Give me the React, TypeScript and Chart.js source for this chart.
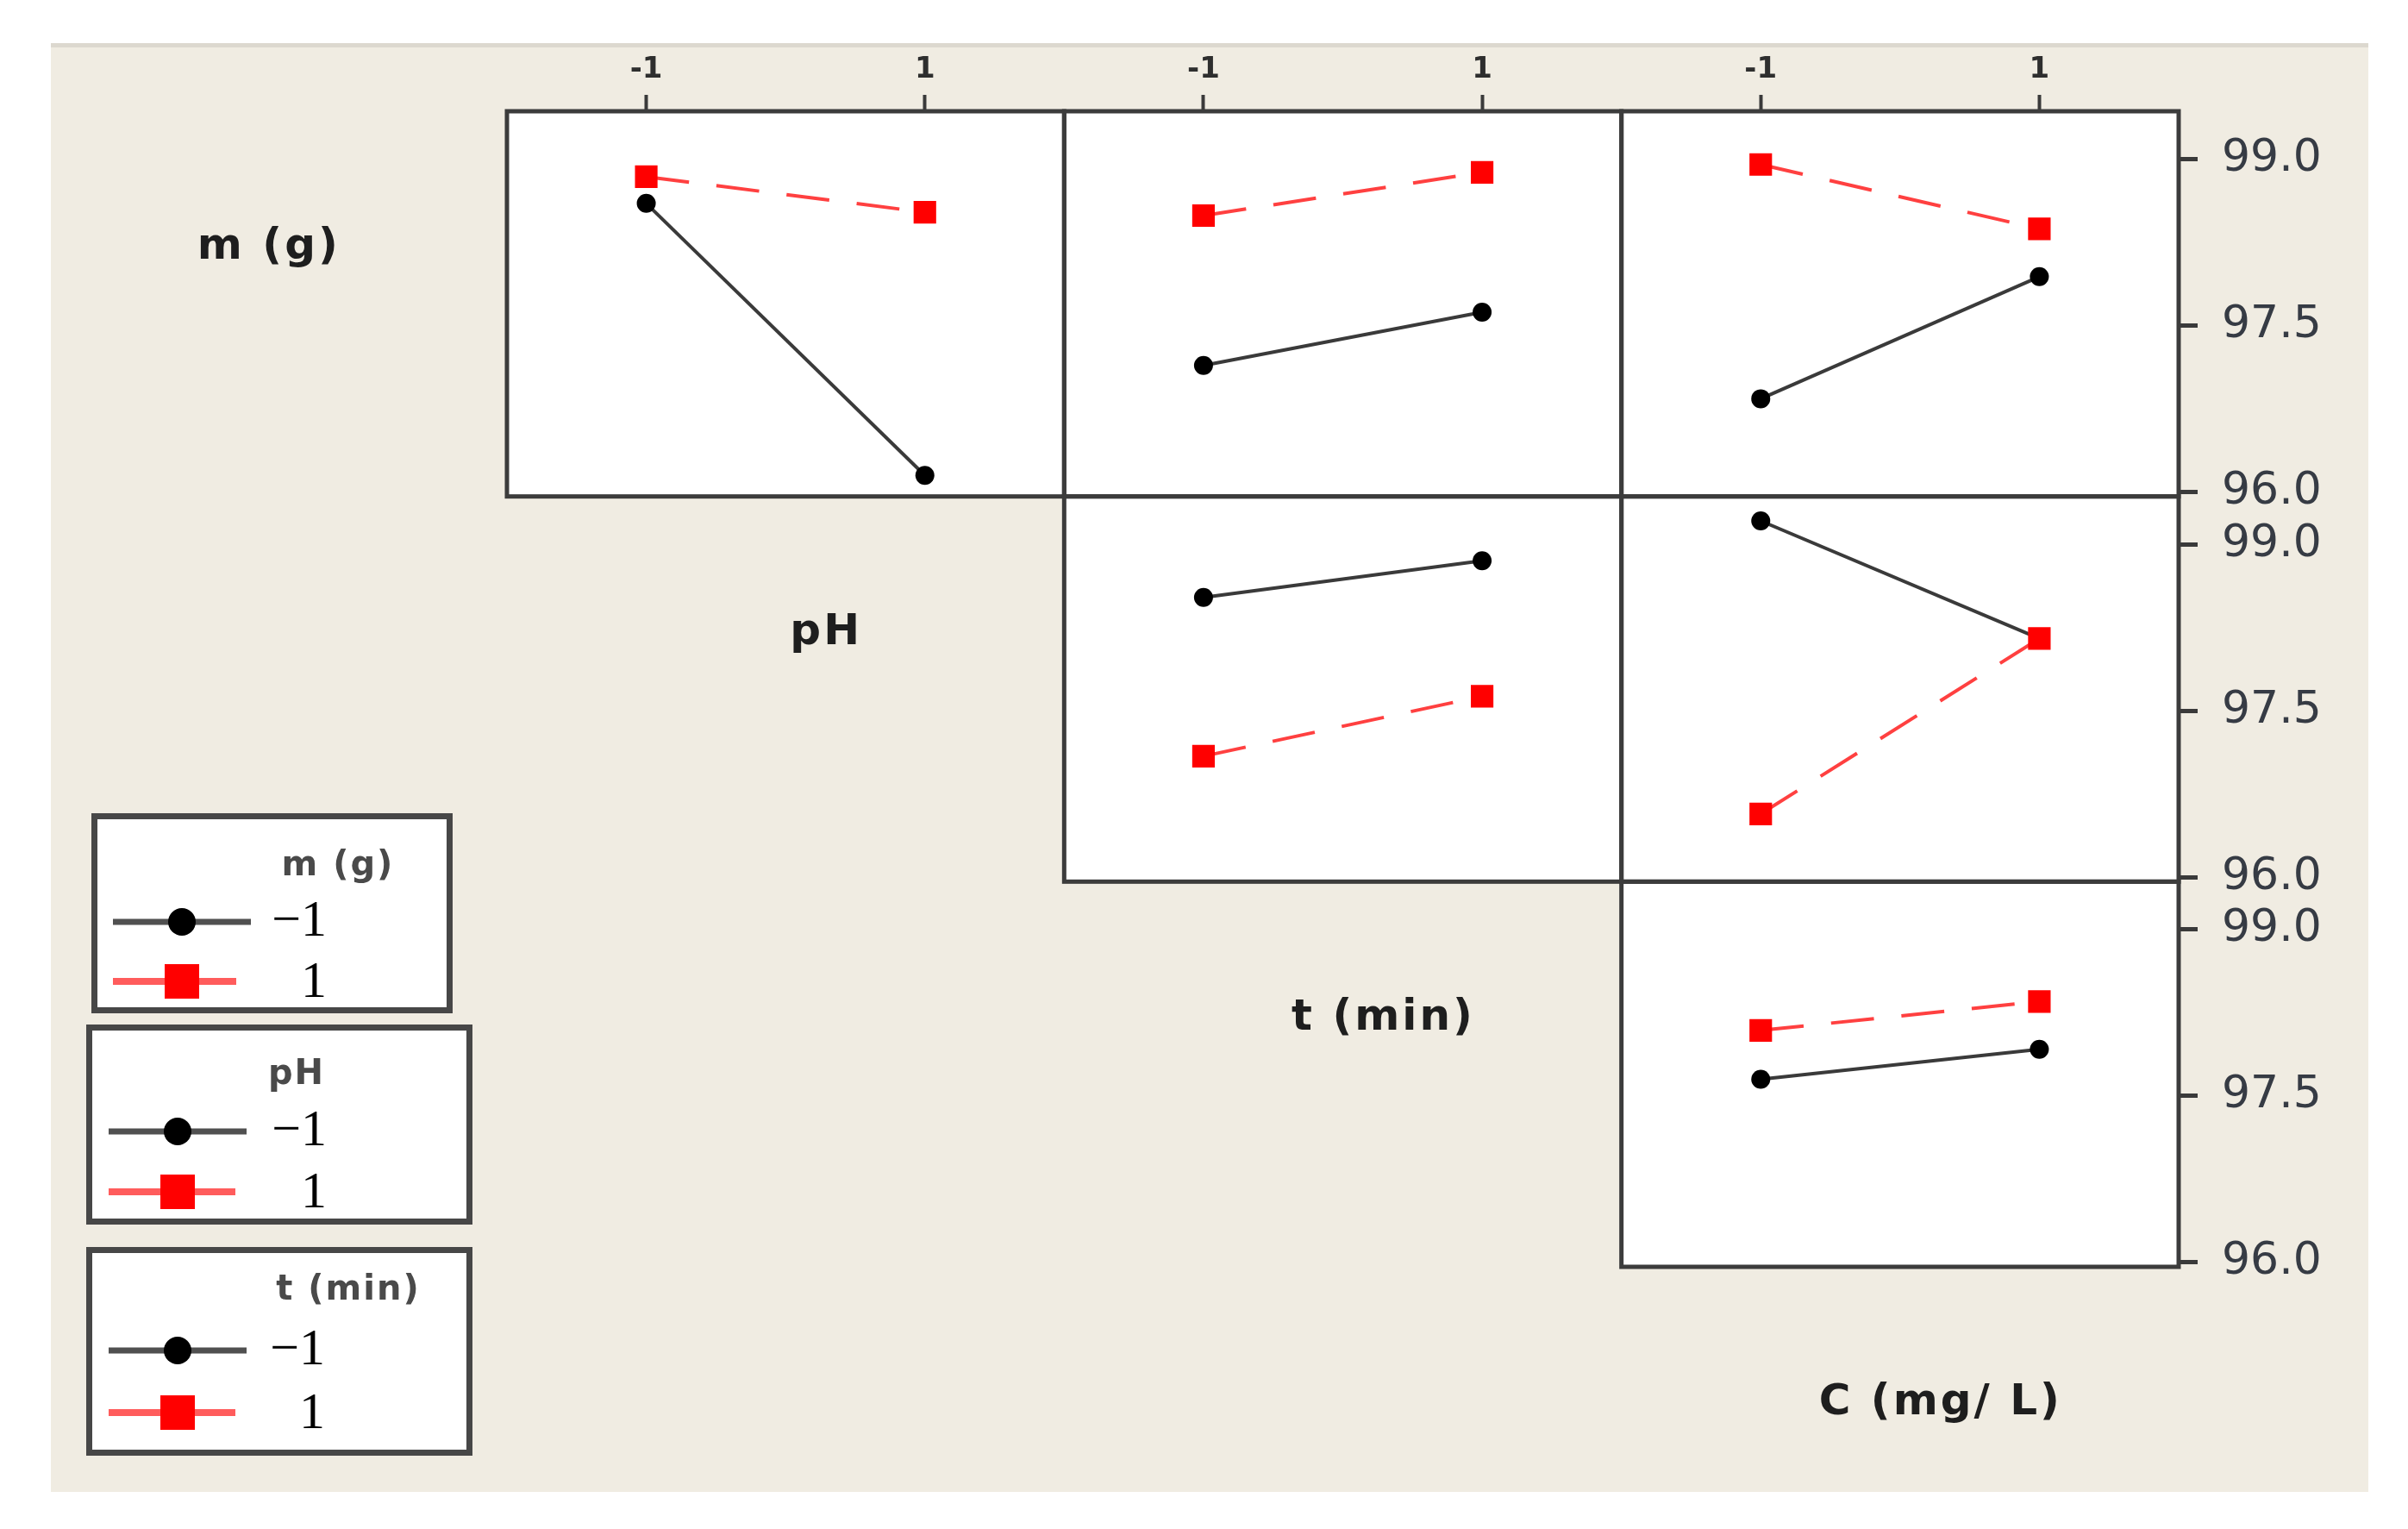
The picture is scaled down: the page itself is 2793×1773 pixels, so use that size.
import React, { useEffect, useRef } from 'react';
import { Chart, registerables } from 'chart.js';

Chart.register(...registerables);

const W = 2793;
const H = 1773;

// ---- data ----
const factorNames = ['m (g)', 'pH', 't (min)', 'C (mg/ L)'];
const legendFactors = ['m (g)', 'pH', 't (min)'];
const levelValues = [-1, 1];
const legendLevelLabels = ['\u22121', '1'];
const xTickValues = [-1, 1];
const xTickLabels = ['-1', '1'];
const yTickValues = [96.0, 97.5, 99.0];

// row m (g): black = m -1, red = m 1
const mLowVsPH = [98.6, 96.15];
const mHighVsPH = [98.84, 98.52];
const mLowVsT = [97.14, 97.62];
const mHighVsT = [98.49, 98.88];
const mLowVsC = [96.84, 97.94];
const mHighVsC = [98.95, 98.37];
// row pH
const pHLowVsT = [98.52, 98.85];
const pHHighVsT = [97.09, 97.63];
const pHLowVsC = [99.21, 98.15];
const pHHighVsC = [96.57, 98.15];
// row t (min)
const tLowVsC = [97.65, 97.92];
const tHighVsC = [98.09, 98.35];

const panels = [
  { row: 0, col: 0, low: mLowVsPH, high: mHighVsPH },
  { row: 0, col: 1, low: mLowVsT, high: mHighVsT },
  { row: 0, col: 2, low: mLowVsC, high: mHighVsC },
  { row: 1, col: 1, low: pHLowVsT, high: pHHighVsT },
  { row: 1, col: 2, low: pHLowVsC, high: pHHighVsC },
  { row: 2, col: 2, low: tLowVsC, high: tHighVsC },
];

// ---- styles ----
const BEIGE = '#F0ECE2';
const BORDER = '#3c3c3c';
const BLACK_LINE = '#3a3a3a';
const RED = '#ff0000';
const RED_LINE = '#ff4040';

const legendBoxes = [
  { x0: 106, y0: 943, x1: 525, y1: 1175, tx: 392, ty: 1005, lx0: 131, lx1: 291, rx1: 274, mx: 211, yb: 1069, yr: 1138, labR: 379 },
  { x0: 100, y0: 1188, x1: 548, y1: 1420, tx: 344, ty: 1247, lx0: 126, lx1: 286, rx1: 273, mx: 206, yb: 1312, yr: 1382, labR: 379 },
  { x0: 100, y0: 1446, x1: 548, y1: 1688, tx: 404, ty: 1497, lx0: 126, lx1: 286, rx1: 273, mx: 206, yb: 1566, yr: 1638, labR: 377 },
];

function drawCircle(ctx: CanvasRenderingContext2D, x: number, y: number, r: number) {
  ctx.beginPath();
  ctx.arc(x, y, r, 0, Math.PI * 2);
  ctx.fill();
}

const decorPlugin = {
  id: 'decor',
  beforeDraw(chart: any) {
    const ctx = chart.ctx as CanvasRenderingContext2D;
    ctx.save();
    ctx.fillStyle = '#ffffff';
    ctx.fillRect(0, 0, chart.width, chart.height);
    ctx.fillStyle = BEIGE;
    ctx.fillRect(59, 50, 2747 - 59, 1730 - 50);
    ctx.fillStyle = '#dcd8cf';
    ctx.fillRect(59, 50, 2747 - 59, 5);
    ctx.restore();
  },
  beforeDatasetsDraw(chart: any) {
    const ctx = chart.ctx as CanvasRenderingContext2D;
    ctx.save();
    panels.forEach((p) => {
      const xs = chart.scales['x' + p.col];
      const ys = chart.scales['y' + p.row];
      ctx.fillStyle = '#ffffff';
      ctx.fillRect(xs.left, ys.top, xs.right - xs.left, ys.bottom - ys.top);
    });
    ctx.strokeStyle = BORDER;
    ctx.lineWidth = 5;
    panels.forEach((p) => {
      const xs = chart.scales['x' + p.col];
      const ys = chart.scales['y' + p.row];
      ctx.strokeRect(xs.left, ys.top, xs.right - xs.left, ys.bottom - ys.top);
    });
    ctx.restore();
  },
  afterDraw(chart: any) {
    const ctx = chart.ctx as CanvasRenderingContext2D;
    const area = chart.chartArea;
    const cw = (area.right - area.left) / 3;
    const ch = (area.bottom - area.top) / 3;
    ctx.save();
    // diagonal factor labels
    ctx.fillStyle = '#1e1e1e';
    ctx.font = 'bold 50px "DejaVu Sans"';
    (ctx as any).letterSpacing = '3px';
    ctx.textAlign = 'center';
    ctx.textBaseline = 'middle';
    factorNames.forEach((name, i) => {
      const x = area.left + (i - 0.5) * cw + 47;
      const y = area.top + (i + 0.5) * ch - 65;
      ctx.fillText(name, x, y);
    });
    // legends
    legendBoxes.forEach((b, i) => {
      ctx.fillStyle = '#ffffff';
      ctx.fillRect(b.x0, b.y0, b.x1 - b.x0, b.y1 - b.y0);
      ctx.strokeStyle = '#bdbdbd';
      ctx.lineWidth = 4;
      ctx.strokeRect(b.x0 + 8, b.y0 + 7, b.x1 - b.x0 - 16, b.y1 - b.y0 - 14);
      ctx.strokeStyle = '#474747';
      ctx.lineWidth = 7;
      ctx.strokeRect(b.x0 + 3.5, b.y0 + 3.5, b.x1 - b.x0 - 7, b.y1 - b.y0 - 7);
      ctx.fillStyle = '#ffffff';
      ctx.fillRect(b.x0 + 7, b.y0 + 7, b.x1 - b.x0 - 14, b.y1 - b.y0 - 14);

      ctx.fillStyle = '#4a4a4a';
      ctx.font = 'bold 40px "DejaVu Sans"';
      (ctx as any).letterSpacing = '2px';
      ctx.textAlign = 'center';
      ctx.textBaseline = 'middle';
      ctx.fillText(legendFactors[i], b.tx, b.ty);
      (ctx as any).letterSpacing = '0px';

      // black entry
      ctx.strokeStyle = '#505050';
      ctx.lineWidth = 7;
      ctx.beginPath();
      ctx.moveTo(b.lx0, b.yb);
      ctx.lineTo(b.lx1, b.yb);
      ctx.stroke();
      ctx.fillStyle = '#000000';
      drawCircle(ctx, b.mx, b.yb, 16);
      // red entry
      ctx.strokeStyle = '#ff5c5c';
      ctx.lineWidth = 8;
      ctx.beginPath();
      ctx.moveTo(b.lx0, b.yr);
      ctx.lineTo(b.rx1, b.yr);
      ctx.stroke();
      ctx.fillStyle = RED;
      ctx.fillRect(b.mx - 20, b.yr - 20, 40, 40);

      ctx.fillStyle = '#000000';
      ctx.font = '60px "Liberation Serif"';
      ctx.textAlign = 'right';
      ctx.fillText(legendLevelLabels[0], b.labR, b.yb);
      ctx.fillText(legendLevelLabels[1], b.labR, b.yr + 2);
    });
    ctx.restore();
  },
};

function buildScales() {
  const scales: any = {};
  [0, 1, 2].forEach((c) => {
    scales['x' + c] = {
      type: 'linear',
      position: 'top',
      stack: 'cols',
      stackWeight: 1,
      weight: 3 - c,
      min: -2,
      max: 2,
      afterBuildTicks: (s: any) => {
        s.ticks = xTickValues.map((v) => ({ value: v }));
      },
      afterFit: (s: any) => {
        s.height = 70;
      },
      ticks: {
        autoSkip: false,
        maxRotation: 0,
        padding: 8,
        color: '#2e2e2e',
        font: { family: '"DejaVu Sans"', size: 34, weight: 'bold' },
        callback: (v: any) => {
          const i = xTickValues.indexOf(Number(v));
          return i >= 0 ? xTickLabels[i] : '';
        },
      },
      grid: {
        drawOnChartArea: false,
        drawTicks: true,
        tickLength: 19,
        tickWidth: 4,
        tickColor: '#3a3a3a',
      },
      border: { display: false },
    };
  });
  [0, 1, 2].forEach((r) => {
    scales['y' + r] = {
      type: 'linear',
      position: 'right',
      stack: 'rows',
      stackWeight: 1,
      weight: r + 1,
      min: 95.96,
      max: 99.43,
      afterBuildTicks: (s: any) => {
        s.ticks = yTickValues.map((v) => ({ value: v }));
      },
      afterFit: (s: any) => {
        s.width = 220;
      },
      ticks: {
        autoSkip: false,
        padding: 28,
        color: '#363b44',
        font: { family: '"DejaVu Sans"', size: 52 },
        callback: (v: any) => Number(v).toFixed(1),
      },
      grid: {
        drawOnChartArea: false,
        drawTicks: true,
        tickLength: 22,
        tickWidth: 5,
        tickColor: '#3a3a3a',
      },
      border: { display: false },
    };
  });
  return scales;
}

function buildDatasets() {
  const ds: any[] = [];
  panels.forEach((p) => {
    ds.push({
      label: `${legendFactors[p.row]} = 1 / ${factorNames[p.col + 1]}`,
      data: levelValues.map((x, i) => ({ x, y: p.high[i] })),
      xAxisID: 'x' + p.col,
      yAxisID: 'y' + p.row,
      order: 0,
      borderColor: RED_LINE,
      borderWidth: 4,
      borderDash: [50, 32],
      tension: 0,
      fill: false,
      pointStyle: 'rect',
      pointRadius: 18.5,
      pointBackgroundColor: RED,
      pointBorderColor: RED,
      pointBorderWidth: 0,
    });
    ds.push({
      label: `${legendFactors[p.row]} = -1 / ${factorNames[p.col + 1]}`,
      data: levelValues.map((x, i) => ({ x, y: p.low[i] })),
      xAxisID: 'x' + p.col,
      yAxisID: 'y' + p.row,
      order: 1,
      borderColor: BLACK_LINE,
      borderWidth: 4,
      tension: 0,
      fill: false,
      pointStyle: 'circle',
      pointRadius: 11,
      pointBackgroundColor: '#000000',
      pointBorderColor: '#000000',
      pointBorderWidth: 0,
    });
  });
  return ds;
}

export default function App() {
  const ref = useRef<HTMLCanvasElement | null>(null);
  useEffect(() => {
    if (!ref.current) return;
    const chart = new Chart(ref.current, {
      type: 'line',
      data: { datasets: buildDatasets() },
      options: {
        responsive: false,
        devicePixelRatio: 1,
        animation: false,
        events: [],
        layout: { padding: { left: 588, right: 46, top: 59, bottom: 304 } },
        plugins: { legend: { display: false }, tooltip: { enabled: false }, title: { display: false } },
        scales: buildScales(),
      } as any,
      plugins: [decorPlugin as any],
    });
    return () => chart.destroy();
  }, []);
  return (
    <div style={{ position: 'fixed', left: 0, top: 0, width: W, height: H, background: '#fff' }}>
      <canvas ref={ref} width={W} height={H} style={{ display: 'block', width: W, height: H }} />
    </div>
  );
}
